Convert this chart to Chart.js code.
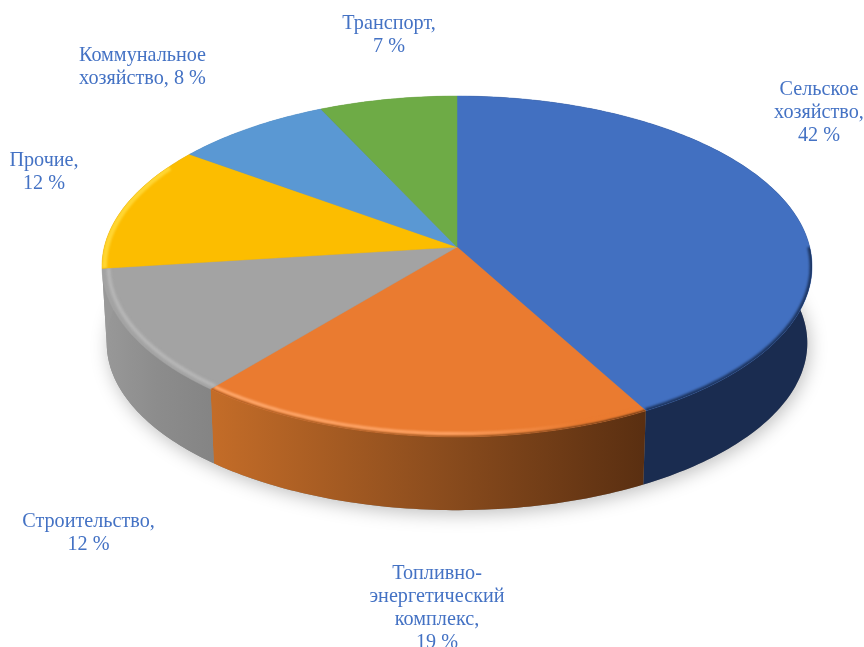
<!DOCTYPE html>
<html>
<head>
<meta charset="utf-8">
<title>Pie</title>
<script src="https://cdn.jsdelivr.net/npm/chart.js@4"></script>
<style>
    html, body { margin: 0; padding: 0; background: #fff; overflow: hidden; }
    canvas { display: block; }
</style>
</head>
<body>
<canvas id="pieChart" width="864" height="647"></canvas>
<script>
const categories = ["Сельское хозяйство", "Топливно-энергетический комплекс", "Строительство", "Прочие", "Коммунальное хозяйство", "Транспорт"];
const shares = [42, 19, 12, 12, 8, 7];
const sliceColors = ["#4270c1", "#ea7b30", "#a3a3a3", "#fcbd00", "#5a98d3", "#6eab46"];

const labelLines = [
    ["Сельское", "хозяйство,", "42 %"],
    ["Топливно-", "энергетический", "комплекс,", "19 %"],
    ["Строительство,", "12 %"],
    ["Прочие,", "12 %"],
    ["Коммунальное", "хозяйство, 8 %"],
    ["Транспорт,", "7 %"],
];
const labelAnchors = [[819, 89.5], [437, 573.5], [88.5, 521.5], [44, 160.5], [142.5, 55.5], [389, 23.5]];
const LINE_HEIGHT = 23.2;

// Perspective of the disc: the centre sits above the middle of the ellipse
const PERSP = -0.114;
const CX = 457;
const topFace = { yMid: 247, yAmp: 140, xAmp: 352.7 };
const bottomFace = { yMid: 324, yAmp: 128, xAmp: 348 };

function project(face, t, r = 1) {
    const u = r * Math.cos(t);
    const v = r * Math.sin(t);
    const w = 1 + PERSP * v;
    return [CX + face.xAmp * u / w, (face.yMid + face.yAmp * v) / w];
}

function traceCurve(ctx, face, from, to, r = 1, move = false) {
    const steps = Math.max(2, Math.ceil(Math.abs(to - from) * 60));
    for (let i = 0; i <= steps; i++) {
        const [x, y] = project(face, from + (to - from) * i / steps, r);
        if (i === 0 && move) ctx.moveTo(x, y);
        else ctx.lineTo(x, y);
    }
}

function horizontalGradient(ctx, x0, x1, stops) {
    const g = ctx.createLinearGradient(x0, 0, x1, 0);
    stops.forEach(([at, color]) => g.addColorStop(at, color));
    return g;
}

function slicePath(ctx, arc) {
    ctx.beginPath();
    ctx.moveTo(CX, topFace.yMid);
    traceCurve(ctx, topFace, arc.startAngle, arc.endAngle);
    ctx.closePath();
}

function strokeRim(ctx, arc, style, r, width, blur, minV) {
    // only the part of the rim that faces the viewer gets shading
    const from = Math.max(arc.startAngle, Math.asin(minV));
    const to = Math.min(arc.endAngle, Math.PI - Math.asin(minV));
    if (to <= from) return;
    ctx.save();
    slicePath(ctx, arc);
    ctx.clip();
    ctx.filter = `blur(${blur}px)`;
    ctx.strokeStyle = style;
    ctx.lineWidth = width;
    ctx.beginPath();
    traceCurve(ctx, topFace, from, to, r, true);
    ctx.stroke();
    ctx.restore();
}

const pie3dPlugin = {
    id: "pie3d",
    beforeDatasetsDraw(chart) {
        const ctx = chart.ctx;
        const arcs = chart.getDatasetMeta(0).data;

        // the small bit of wall under "Прочие" reads as grey in the reference
        const wallFills = [
            "#1a2c50",
            horizontalGradient(ctx, 214, 643, [[0, "#c36c28"], [0.5, "#8e4e1e"], [1, "#5a2f11"]]),
            horizontalGradient(ctx, 101, 215, [[0, "#999999"], [0.5, "#8c8c8c"], [1, "#848484"]]),
            "#999999",
            "#44749f",
            "#548235",
        ];

        // soft shadow under the disc
        ctx.save();
        ctx.shadowColor = "rgba(0,0,0,0.25)";
        ctx.shadowBlur = 18;
        ctx.shadowOffsetY = 4;
        ctx.shadowOffsetX = 2;
        ctx.fillStyle = "#888";
        ctx.beginPath();
        traceCurve(ctx, bottomFace, 0, Math.PI * 2, 1, true);
        ctx.closePath();
        ctx.fill();
        ctx.restore();

        // side walls
        arcs.forEach((arc, i) => {
            ctx.fillStyle = wallFills[i];
            ctx.beginPath();
            traceCurve(ctx, topFace, arc.startAngle, arc.endAngle, 1, true);
            traceCurve(ctx, bottomFace, arc.endAngle, arc.startAngle);
            ctx.closePath();
            ctx.fill();
        });

        // top face
        arcs.forEach((arc) => {
            slicePath(ctx, arc);
            ctx.fillStyle = arc.options.backgroundColor;
            ctx.strokeStyle = arc.options.backgroundColor;
            ctx.lineWidth = 0.5;
            ctx.fill();
            ctx.stroke();
        });

        // bevel along the rim
        strokeRim(ctx, arcs[0], "#1d3560", 1, 5, 1.2, 0);
        strokeRim(ctx, arcs[1], horizontalGradient(ctx, 214, 643, [[0, "#a85a20"], [0.5, "#9a5520"], [1, "#5a2f11"]]), 1, 3, 1, 0);
        strokeRim(ctx, arcs[1], horizontalGradient(ctx, 214, 643, [[0, "#ffab70"], [0.55, "#ffa466"], [0.85, "#ea7b30"], [1, "#ea7b30"]]), 0.985, 3, 1.2, 0);
        strokeRim(ctx, arcs[2], "#bcbcbc", 0.982, 3, 1.5, -0.3);
        strokeRim(ctx, arcs[3], "#ffd633", 0.993, 5, 1.2, -0.5);

        // the disc is drawn here, so the default flat arcs are skipped
        return false;
    },
    afterDraw(chart) {
        const ctx = chart.ctx;
        ctx.save();
        ctx.font = '20.2px "Liberation Serif", "Times New Roman", serif';
        ctx.fillStyle = "#4472c4";
        ctx.textAlign = "center";
        ctx.textBaseline = "middle";
        labelLines.forEach((lines, i) => {
            const [x, y] = labelAnchors[i];
            lines.forEach((line, n) => ctx.fillText(line, x, y + n * LINE_HEIGHT));
        });
        ctx.restore();
    },
};

new Chart(document.getElementById("pieChart").getContext("2d"), {
    type: "pie",
    data: {
        labels: categories,
        datasets: [{ data: shares, backgroundColor: sliceColors, borderWidth: 0 }],
    },
    options: {
        responsive: false,
        animation: false,
        plugins: {
            legend: { display: false },
            tooltip: { enabled: false },
        },
    },
    plugins: [pie3dPlugin],
});
</script>
</body>
</html>
